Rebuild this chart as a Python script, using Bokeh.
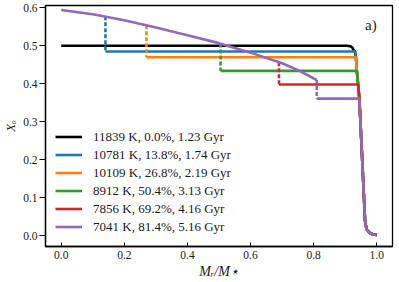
import numpy as np
from bokeh.plotting import figure
from bokeh.models import (Range1d, FixedTicker, PrintfTickFormatter, Legend,
                          LegendItem, Label)
from bokeh.embed import file_html
from bokeh.resources import INLINE

# ---------------- data ----------------
teff_k = [11839, 10781, 10109, 8912, 7856, 7041]
cryst_pct = [0.0, 13.8, 26.8, 50.4, 69.2, 81.4]
age_gyr = [1.23, 1.74, 2.19, 3.13, 4.16, 5.16]
colors = ["black", "#1f77b4", "#ff7f0e", "#2ca02c", "#d62728", "#9467bd"]

# crystallized core profile (latest model)
core_x = [0.0, 0.1, 0.2, 0.3, 0.4, 0.5, 0.6, 0.7, 0.75, 0.81]
core_y = [0.594, 0.583, 0.567, 0.548, 0.528, 0.507, 0.482, 0.454, 0.436, 0.410]

# crystallization front position and O abundance above / below the front
front_x = [0.0, 0.14, 0.27, 0.505, 0.69, 0.81]
front_top = [0.500, 0.578, 0.554, 0.506, 0.457, 0.410]
flat_xo = [0.500, 0.485, 0.470, 0.434, 0.398, 0.361]
knee_x = [0.905, 0.931, 0.934, 0.937, 0.941, 0.945]

black_corner_x = [0.916, 0.923, 0.927]
black_corner_y = [0.499, 0.495, 0.488]

# common outer drop of the oxygen profile
tail_x = [0.931, 0.934, 0.937, 0.941, 0.945, 0.9484, 0.954, 0.9596, 0.963, 0.968, 0.979, 0.989, 1.0]
tail_y = [0.485, 0.470, 0.434, 0.398, 0.361, 0.300, 0.200, 0.100, 0.039, 0.017, 0.007, 0.0035, 0.0025]

x_ticks = [0.0, 0.2, 0.4, 0.6, 0.8, 1.0]
y_ticks = [0.0, 0.1, 0.2, 0.3, 0.4, 0.5, 0.6]

FONT = "Liberation Serif"
TXT = "#1a1a1a"

p = figure(width=398, height=281, output_backend="svg", toolbar_location=None,
           x_range=Range1d(-0.05, 1.05), y_range=Range1d(-0.028, 0.606),
           min_border_left=44, min_border_right=6, min_border_top=5,
           min_border_bottom=34)
p.grid.visible = False
p.outline_line_color = "black"
p.outline_line_width = 1.3
p.outline_line_alpha = 1.0
p.background_fill_color = "white"

for ax in (p.xaxis[0], p.yaxis[0]):
    ax.axis_line_width = 1.3
    ax.major_tick_line_width = 1.0
    ax.minor_tick_line_color = None
    ax.major_label_text_font = FONT
    ax.major_label_text_font_size = "11.5px"
    ax.major_label_text_color = TXT
    ax.axis_label_text_font = FONT
    ax.axis_label_text_font_style = "italic"
    ax.axis_label_text_font_size = "14px"
    ax.axis_label_text_color = TXT
    ax.formatter = PrintfTickFormatter(format="%.1f")

p.xaxis.ticker = FixedTicker(ticks=x_ticks)
p.yaxis.ticker = FixedTicker(ticks=y_ticks)
p.xaxis.major_tick_in = 4
p.xaxis.major_tick_out = 0
p.xaxis.major_label_standoff = 4
p.xaxis.axis_label_standoff = 2
p.xaxis.axis_label = "M\u1d63/M\u22c6"
p.yaxis.major_tick_in = 0
p.yaxis.major_tick_out = 6
p.yaxis.major_label_standoff = 2
p.yaxis.axis_label_standoff = 2
p.yaxis.axis_label_text_font_size = "13px"
p.yaxis.axis_label = "X\u2092"

LW = 2.6
items = []
for k in range(6):
    c = colors[k]
    if k > 0:
        p.line([front_x[k], front_x[k]], [front_top[k], flat_xo[k]],
               line_color=c, line_width=LW, line_dash="4 2")
    xs = [front_x[k], knee_x[k]]
    ys = [flat_xo[k], flat_xo[k]]
    if k == 0:
        xs += black_corner_x
        ys += black_corner_y
    lim = ys[-1]
    for tx, ty in zip(tail_x, tail_y):
        if ty < lim - 1e-9:
            xs.append(tx)
            ys.append(ty)
    r = p.line(xs, ys, line_color=c, line_width=LW)
    if k == 5:
        p.line(core_x, core_y, line_color=c, line_width=LW)
    label = f"{teff_k[k]} K, {cryst_pct[k]:.1f}%, {age_gyr[k]:.2f} Gyr"
    items.append(LegendItem(label=label, renderers=[r]))

legend = Legend(items=items, location=(10, 11), orientation="vertical",
                glyph_width=27, glyph_height=17, label_height=17, spacing=1,
                padding=0, margin=0, label_standoff=11,
                label_text_font=FONT, label_text_font_size="13px",
                label_text_color=TXT,
                border_line_alpha=0, background_fill_alpha=0)
p.add_layout(legend, "center")

p.add_layout(Label(x=1.0, y=0.555, text="a)", text_font=FONT,
                   text_font_size="15px", text_align="right",
                   text_baseline="middle", text_color=TXT))

open("out.html", "w").write(file_html(p, INLINE))
